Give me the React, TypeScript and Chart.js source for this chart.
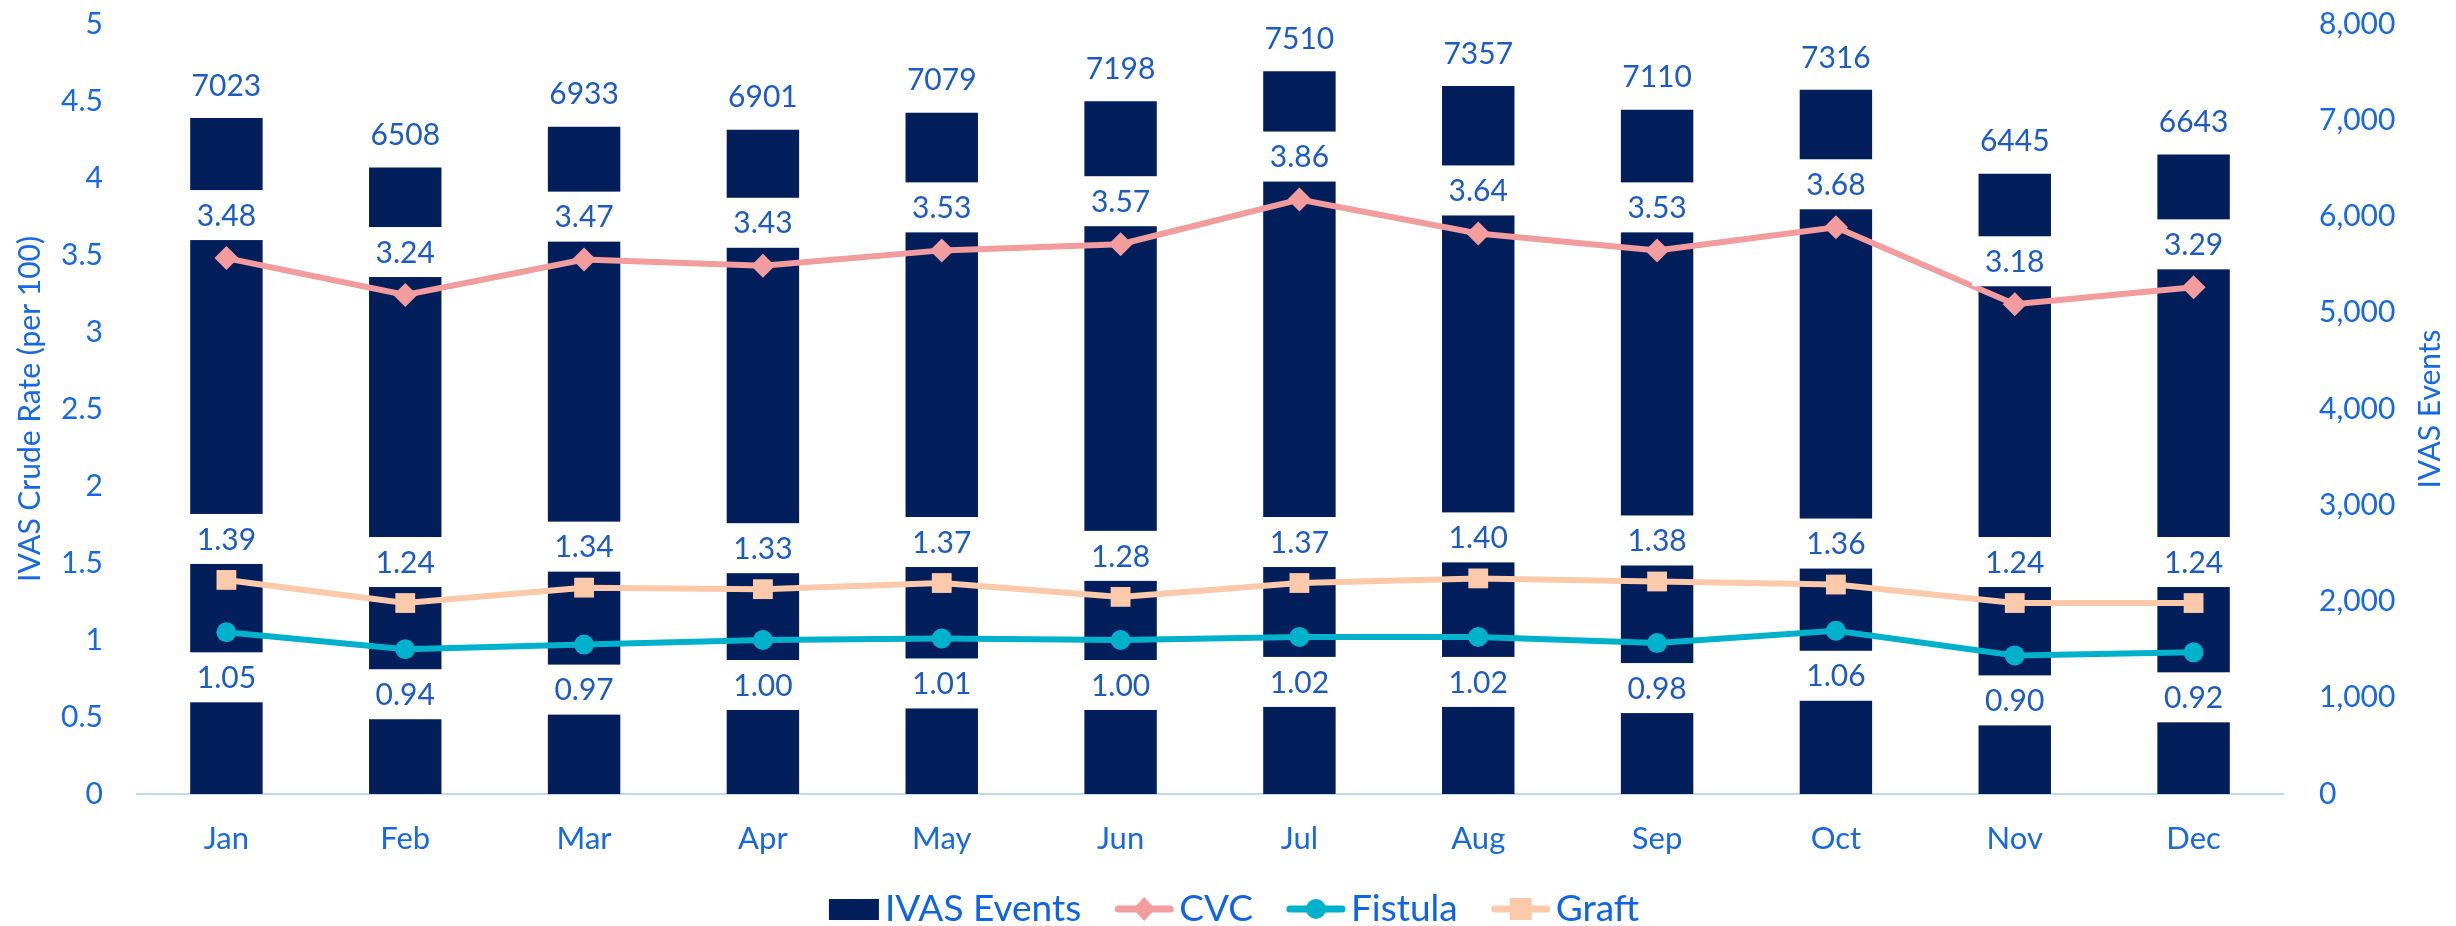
import React, { useEffect, useRef } from "react";
import { Chart, registerables } from "chart.js";

Chart.register(...registerables);

const months = ["Jan", "Feb", "Mar", "Apr", "May", "Jun", "Jul", "Aug", "Sep", "Oct", "Nov", "Dec"];
const ivasEvents = [7023, 6508, 6933, 6901, 7079, 7198, 7510, 7357, 7110, 7316, 6445, 6643];
const cvcRates = [3.48, 3.24, 3.47, 3.43, 3.53, 3.57, 3.86, 3.64, 3.53, 3.68, 3.18, 3.29];
const fistulaRates = [1.05, 0.94, 0.97, 1.0, 1.01, 1.0, 1.02, 1.02, 0.98, 1.06, 0.9, 0.92];
const graftRates = [1.39, 1.24, 1.34, 1.33, 1.37, 1.28, 1.37, 1.4, 1.38, 1.36, 1.24, 1.24];

const FONT = "Lato, 'Open Sans', sans-serif";
const TICK_BLUE = "#1868E2";
const LABEL_BLUE = "#1C5AC4";
const LEGEND_BLUE = "#0E64E6";
const NAVY = "#021F5C";
const PINK = "#F29C9E";
const TEAL = "#00B1CB";
const PEACH = "#FCCAAB";
const AXIS_LINE = "#C0D8F6";

// label placement per dataset label: vertical offset from the mark, white box behind?
const labelStyle: Record<string, { offset: number; box: boolean; decimals: number }> = {
  "IVAS Events": { offset: -33, box: false, decimals: 0 },
  CVC: { offset: -43, box: true, decimals: 2 },
  Fistula: { offset: 45, box: true, decimals: 2 },
  Graft: { offset: -41, box: true, decimals: 2 },
};

const valueLabelPlugin = {
  id: "valueLabels",
  afterDatasetsDraw(chart: any) {
    const ctx = chart.ctx;
    ctx.save();
    ctx.font = `30px ${FONT}`;
    ctx.textAlign = "center";
    ctx.textBaseline = "middle";
    chart.data.datasets.forEach((ds: any, i: number) => {
      const st = labelStyle[ds.label];
      if (!st) return;
      const meta = chart.getDatasetMeta(i);
      meta.data.forEach((el: any, j: number) => {
        const v = ds.data[j] as number;
        const text = st.decimals ? v.toFixed(st.decimals) : String(v);
        const y = el.y + st.offset;
        if (st.box) {
          const w = ctx.measureText(text).width + 26;
          ctx.fillStyle = "#ffffff";
          ctx.fillRect(el.x - w / 2, y - 25, w, 50);
        }
        ctx.fillStyle = LABEL_BLUE;
        ctx.fillText(text, el.x, y + 1);
      });
    });
    ctx.restore();
  },
};

const extrasPlugin = {
  id: "extras",
  afterDraw(chart: any) {
    const ctx = chart.ctx;
    const area = chart.chartArea;
    ctx.save();
    // right axis title (reads upward)
    ctx.font = `30px ${FONT}`;
    ctx.fillStyle = TICK_BLUE;
    ctx.textAlign = "center";
    ctx.textBaseline = "middle";
    ctx.translate(2430, (area.top + area.bottom) / 2);
    ctx.rotate(-Math.PI / 2);
    ctx.fillText("IVAS Events", 0, 0);
    ctx.restore();

    // custom legend
    ctx.save();
    ctx.font = `37px ${FONT}`;
    ctx.textBaseline = "middle";
    ctx.textAlign = "left";
    const legendY = 909;
    const items = chart.data.datasets.map((ds: any) => ({
      label: ds.label as string,
      type: ds.type as string,
      color: ds.backgroundColor as string,
      point: ds.pointStyle as string,
      markerW: ds.type === "bar" ? 50 : 58,
    }));
    const gapMarker = 6;
    const gapItems = 34;
    let total = 0;
    items.forEach((it: any, k: number) => {
      total += it.markerW + gapMarker + ctx.measureText(it.label).width;
      if (k < items.length - 1) total += gapItems;
    });
    let x = 1234 - total / 2;
    items.forEach((it: any) => {
      if (it.type === "bar") {
        ctx.fillStyle = it.color;
        ctx.fillRect(x, legendY - 10, it.markerW, 21);
      } else {
        ctx.strokeStyle = it.color;
        ctx.lineWidth = 7;
        ctx.lineCap = "round";
        ctx.beginPath();
        ctx.moveTo(x + 3, legendY);
        ctx.lineTo(x + it.markerW - 3, legendY);
        ctx.stroke();
        ctx.fillStyle = it.color;
        const cx = x + it.markerW / 2;
        ctx.beginPath();
        if (it.point === "rectRot") {
          ctx.moveTo(cx, legendY - 12);
          ctx.lineTo(cx + 11, legendY);
          ctx.lineTo(cx, legendY + 12);
          ctx.lineTo(cx - 11, legendY);
          ctx.closePath();
          ctx.fill();
        } else if (it.point === "circle") {
          ctx.arc(cx, legendY, 10, 0, Math.PI * 2);
          ctx.fill();
        } else {
          ctx.fillRect(cx - 11, legendY - 11, 22, 22);
        }
      }
      x += it.markerW + gapMarker;
      ctx.fillStyle = LEGEND_BLUE;
      ctx.fillText(it.label, x, legendY);
      x += ctx.measureText(it.label).width + gapItems;
    });
    ctx.restore();
  },
};

export default function App() {
  const canvasRef = useRef<HTMLCanvasElement | null>(null);

  useEffect(() => {
    if (!canvasRef.current) return;
    const chart = new Chart(canvasRef.current, {
      type: "bar",
      data: {
        labels: months,
        datasets: [
          {
            type: "bar",
            label: "IVAS Events",
            data: ivasEvents,
            backgroundColor: NAVY,
            borderWidth: 0,
            yAxisID: "y1",
            barPercentage: 0.405,
            categoryPercentage: 1,
            order: 10,
          } as any,
          {
            type: "line",
            label: "CVC",
            data: cvcRates,
            borderColor: PINK,
            backgroundColor: PINK,
            borderWidth: 6,
            pointStyle: "rectRot",
            pointRadius: 12,
            pointBorderWidth: 0,
            pointBackgroundColor: PINK,
            yAxisID: "y",
            tension: 0,
            order: 1,
          } as any,
          {
            type: "line",
            label: "Fistula",
            data: fistulaRates,
            borderColor: TEAL,
            backgroundColor: TEAL,
            borderWidth: 6,
            pointStyle: "circle",
            pointRadius: 10,
            pointBorderWidth: 0,
            pointBackgroundColor: TEAL,
            yAxisID: "y",
            tension: 0,
            order: 2,
          } as any,
          {
            type: "line",
            label: "Graft",
            data: graftRates,
            borderColor: PEACH,
            backgroundColor: PEACH,
            borderWidth: 6,
            pointStyle: "rect",
            pointRadius: 14,
            pointBorderWidth: 0,
            pointBackgroundColor: PEACH,
            yAxisID: "y",
            tension: 0,
            order: 3,
          } as any,
        ],
      },
      options: {
        responsive: false,
        animation: false,
        layout: { padding: { top: 24, left: 0, right: 0, bottom: 0 } },
        plugins: {
          legend: { display: false },
          tooltip: { enabled: false },
        },
        scales: {
          x: {
            offset: true,
            grid: { display: false, drawTicks: false },
            border: { display: true, color: AXIS_LINE, width: 2 },
            ticks: { color: TICK_BLUE, font: { family: FONT, size: 31 }, padding: 26 },
            afterFit: (scale: any) => {
              scale.height = 132;
              scale.paddingLeft = 0;
              scale.paddingRight = 0;
            },
          },
          y: {
            position: "left",
            min: 0,
            max: 5,
            grid: { display: false, drawTicks: false },
            border: { display: false },
            ticks: {
              stepSize: 0.5,
              color: TICK_BLUE,
              font: { family: FONT, size: 30 },
              padding: 34,
              callback: (v: any) => String(Number(v)),
            },
            title: {
              display: true,
              text: "IVAS Crude Rate (per 100)",
              color: TICK_BLUE,
              font: { family: FONT, size: 30 },
              padding: { top: 12, bottom: 0 },
            },
            afterFit: (scale: any) => {
              scale.width = 137;
              scale.paddingTop = 0;
              scale.paddingBottom = 0;
            },
          },
          y1: {
            position: "right",
            min: 0,
            max: 8000,
            grid: { display: false, drawTicks: false },
            border: { display: false },
            ticks: {
              stepSize: 1000,
              color: TICK_BLUE,
              font: { family: FONT, size: 30 },
              padding: 36,
              callback: (v: any) => Number(v).toLocaleString("en-US"),
            },
            afterFit: (scale: any) => {
              scale.width = 173;
              scale.paddingTop = 0;
              scale.paddingBottom = 0;
            },
          },
        },
      } as any,
      plugins: [valueLabelPlugin, extrasPlugin],
    });
    return () => chart.destroy();
  }, []);

  return (
    <div style={{ position: "absolute", left: 0, top: 0, width: 2456, height: 926, background: "#fff" }}>
      <canvas ref={canvasRef} width={2456} height={926} style={{ display: "block" }} />
    </div>
  );
}
